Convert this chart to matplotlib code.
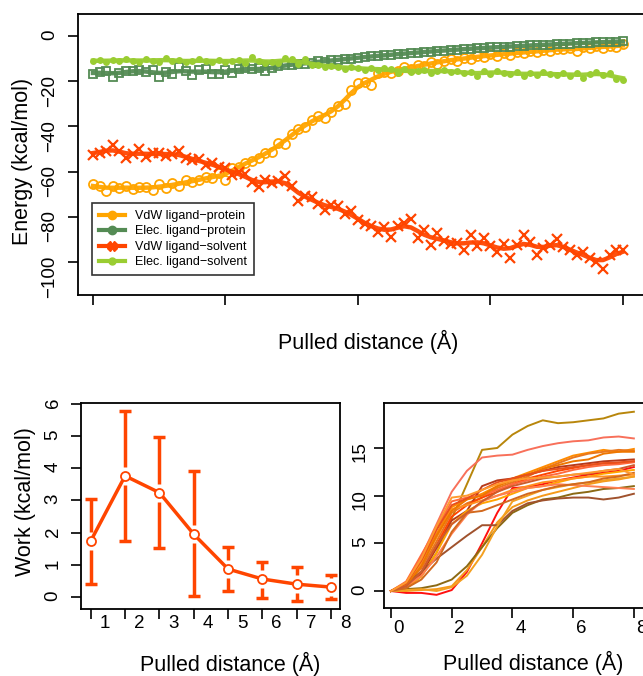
import numpy as np
import matplotlib
matplotlib.use('Agg')
import matplotlib.pyplot as plt
from matplotlib.lines import Line2D
from matplotlib.transforms import ScaledTranslation

plt.rcParams['font.family'] = ['Liberation Sans', 'DejaVu Sans']

# ---- top panel: interaction energies along the pulling path ----
distance = np.linspace(0, 8, 81)

vdw_protein = [-65.5, -66.5, -68.5, -66.6, -67.4, -66.5, -67.8, -67.0, -66.8, -68.2,
               -65.5, -67.4, -65.0, -66.6, -63.6, -64.8, -63.9, -62.5, -62.9, -60.8,
               -63.8, -58.6, -57.8, -56.4, -55.2, -54.0, -51.8, -51.5, -47.2, -47.8,
               -43.2, -41.0, -40.4, -37.2, -35.2, -36.4, -33.6, -31.2, -30.0, -24.0,
               -21.0, -20.2, -21.5, -16.4, -16.0, -16.2, -15.4, -13.8, -14.6, -12.9,
               -13.2, -11.5, -12.3, -11.0, -10.2, -11.0, -9.6, -10.0, -8.7, -9.4,
               -8.2, -8.8, -7.6, -8.4, -7.0, -7.6, -6.8, -7.2, -6.2, -6.6,
               -5.7, -6.0, -5.4, -6.8, -5.0, -5.5, -4.6, -5.3, -4.4, -4.8, -3.6]

elec_protein = [-16.8, -16.0, -15.5, -18.0, -16.4, -15.6, -15.4, -15.2, -16.0, -15.0,
                -18.2, -15.8, -16.9, -13.8, -15.6, -17.2, -15.2, -14.8, -16.8, -16.9,
                -15.0, -16.2, -14.6, -14.4, -14.6, -14.4, -15.4, -14.2, -13.4, -12.8,
                -12.9, -12.2, -12.4, -11.8, -11.2, -11.4, -10.8, -10.6, -10.2, -10.0,
                -9.6, -9.4, -9.0, -8.9, -8.5, -8.4, -8.0, -7.9, -7.5, -7.4,
                -7.1, -6.9, -6.6, -6.5, -6.2, -6.1, -5.8, -5.7, -5.4, -5.4,
                -5.1, -5.0, -4.8, -4.7, -4.5, -4.4, -4.2, -4.1, -3.9, -3.9,
                -3.6, -3.5, -3.4, -3.2, -3.1, -3.0, -2.8, -2.8, -2.6, -2.5, -2.3]

vdw_solvent = [-52.5, -51.8, -51.0, -48.2, -50.8, -54.2, -52.4, -50.2, -53.6, -52.0,
               -51.6, -53.0, -52.2, -51.0, -54.0, -55.0, -54.4, -57.2, -56.0, -58.0,
               -58.4, -61.6, -60.2, -61.0, -64.8, -67.0, -63.6, -65.0, -64.0, -62.0,
               -66.2, -72.8, -70.6, -71.2, -74.4, -76.8, -74.6, -75.4, -78.8, -77.6,
               -81.4, -83.0, -84.2, -86.6, -84.4, -89.0, -84.2, -82.6, -81.0, -89.6,
               -86.0, -92.6, -87.2, -90.8, -92.0, -91.4, -94.6, -88.2, -92.8, -89.6,
               -92.8, -95.6, -92.0, -98.2, -92.6, -88.0, -91.2, -96.8, -94.0, -92.4,
               -89.8, -93.4, -94.8, -96.8, -95.4, -98.4, -99.8, -103.0, -97.0, -94.8, -94.6]

elec_solvent = [-11.0, -10.8, -11.4, -10.6, -11.2, -10.0, -11.2, -11.4, -10.2, -11.0,
                -11.4, -9.6, -11.2, -10.8, -11.6, -11.2, -10.4, -11.0, -11.4, -10.6,
                -11.6, -11.0, -10.8, -11.8, -9.4, -11.2, -12.0, -11.4, -11.8, -9.6,
                -10.2, -12.6, -10.4, -13.0, -12.8, -13.6, -13.2, -13.8, -14.6, -13.6,
                -14.0, -15.2, -14.2, -15.0, -14.4, -14.8, -16.4, -14.6, -16.0, -15.6,
                -15.0, -16.2, -15.4, -15.0, -16.0, -15.6, -16.6, -15.8, -17.8, -15.4,
                -16.8, -15.4, -16.2, -17.0, -16.0, -17.6, -16.4, -17.2, -15.8, -17.0,
                -17.4, -16.6, -17.6, -16.2, -18.4, -17.0, -15.8, -17.2, -16.4, -19.2, -19.4]

energy_labels = ['VdW ligand\u2212protein', 'Elec. ligand\u2212protein',
                 'VdW ligand\u2212solvent', 'Elec. ligand\u2212solvent']

# ---- bottom left: work per distance window ----
work_x = [1, 2, 3, 4, 5, 6, 7, 8]
work_mean = [1.74, 3.76, 3.24, 1.95, 0.87, 0.56, 0.40, 0.31]
work_lo = [0.42, 1.73, 1.52, 0.02, 0.18, -0.02, -0.11, -0.06]
work_hi = [3.05, 5.78, 4.96, 3.90, 1.55, 1.10, 0.92, 0.68]

# ---- bottom right: individual work profiles ----
traj_d = [0, 0.5, 1, 1.5, 2, 2.5, 3, 3.5, 4, 4.5, 5, 5.5, 6, 6.5, 7, 7.5, 8]
traj_work = [
    [0, 0.3, 1.6, 4.0, 7.6, 11.2, 14.8, 15.0, 16.4, 17.3, 17.9, 17.6, 17.7, 17.9, 18.1, 18.6, 18.8],
    [0, 0.9, 3.6, 7.0, 10.4, 12.6, 14.0, 14.2, 14.3, 14.8, 15.2, 15.5, 15.7, 15.8, 16.1, 16.2, 16.0],
    [0, 0.8, 3.0, 6.0, 8.8, 9.6, 10.2, 11.0, 11.8, 12.4, 13.0, 13.6, 14.2, 14.5, 14.8, 14.6, 14.9],
    [0, 0.6, 2.4, 5.2, 8.2, 9.2, 9.8, 10.8, 11.4, 12.0, 12.8, 13.4, 14.0, 14.4, 14.6, 14.8, 14.7],
    [0, 0.4, 1.8, 4.5, 7.4, 8.4, 11.0, 11.6, 11.8, 12.2, 12.6, 13.0, 13.2, 13.4, 13.6, 13.7, 13.8],
    [0, 0.5, 2.0, 4.8, 7.8, 9.0, 9.8, 10.4, 11.2, 11.8, 12.2, 12.6, 12.9, 13.2, 13.4, 13.4, 13.6],
    [0, 1.0, 3.8, 6.6, 9.4, 9.8, 10.0, 10.6, 11.2, 11.6, 12.0, 12.3, 12.7, 13.0, 13.2, 13.3, 13.5],
    [0, -0.2, -0.2, -0.4, 0.1, 2.0, 5.0, 8.2, 10.8, 10.9, 11.2, 11.6, 11.9, 12.2, 12.4, 12.6, 13.0],
    [0, 0.3, 1.5, 4.0, 7.0, 8.4, 9.2, 9.6, 10.2, 10.8, 11.0, 11.4, 11.8, 12.0, 12.3, 12.5, 12.7],
    [0, 0.7, 2.8, 5.6, 8.6, 9.0, 9.5, 10.0, 10.6, 11.0, 11.4, 11.6, 11.8, 12.0, 12.0, 12.1, 12.2],
    [0, 0.0, 0.1, 0.2, 0.5, 2.2, 4.6, 7.2, 8.8, 9.5, 10.0, 10.4, 10.8, 11.2, 11.5, 11.7, 12.0],
    [0, 0.2, 0.3, 0.6, 1.2, 2.6, 4.6, 6.6, 8.2, 9.0, 9.6, 9.8, 10.2, 10.4, 10.7, 10.8, 11.0],
    [0, 0.8, 2.0, 3.4, 4.6, 5.8, 6.9, 6.9, 8.4, 9.2, 9.5, 9.7, 9.8, 9.8, 9.6, 9.8, 10.2],
    [0, 0.5, 1.6, 3.6, 6.0, 8.0, 9.4, 10.0, 10.4, 10.8, 11.0, 11.2, 11.1, 11.0, 10.9, 10.8, 10.7],
    [0, 0.6, 2.6, 5.8, 8.4, 9.6, 10.0, 11.0, 11.6, 12.2, 12.8, 13.2, 13.6, 13.8, 14.4, 14.6, 14.6],
    [0, 0.1, 0.2, 0.0, 0.4, 1.6, 3.8, 6.8, 9.4, 10.0, 10.6, 10.9, 11.2, 11.4, 11.6, 11.8, 12.0],
    [0, 0.8, 3.2, 6.4, 9.0, 9.7, 10.6, 11.4, 11.8, 12.2, 12.6, 12.8, 13.0, 13.2, 13.4, 13.5, 13.6],
    [0, 0.3, 1.2, 3.0, 6.2, 8.2, 8.4, 9.0, 9.6, 10.2, 10.6, 11.0, 11.2, 11.4, 11.8, 12.0, 12.4],
    [0, 0.5, 2.0, 4.8, 7.0, 8.2, 9.4, 10.4, 11.0, 11.4, 11.8, 12.0, 12.2, 12.3, 12.6, 12.8, 13.2],
    [0, 0.9, 3.4, 6.8, 9.8, 10.0, 10.6, 11.2, 11.6, 11.8, 11.9, 12.0, 12.2, 12.4, 12.6, 12.8, 12.2],
]
traj_colors = ['#B8860B', '#F8705A', '#FF8C00', '#E8771E', '#B83A1A', '#FF4500',
               '#FF6A3D', '#FF1010', '#FFA500', '#FF9020', '#F59A1A', '#8B6914',
               '#A0522D', '#FF7F50', '#EE7600', '#F4A020', '#E8501A', '#D2691E',
               '#CD5C2C', '#FF9A2E']


def smooth(x, y, bw=0.14):
    x = np.asarray(x)
    y = np.asarray(y)
    w = np.exp(-0.5 * ((x[:, None] - x[None, :]) / bw) ** 2)
    return (w @ y) / w.sum(axis=1)


def style_axes(ax):
    for s in ax.spines.values():
        s.set_linewidth(1.3)
    ax.tick_params(direction='out', length=7, width=1.2, labelsize=13.5)


fig = plt.figure(figsize=(6.43, 6.76), dpi=100)

# top panel
ax1 = fig.add_axes([0.1213, 0.5636, 0.9051, 0.4157])
series = [
    (vdw_protein, '#FFA500', dict(marker='o', ms=6.5, mfc='none', mew=1.3)),
    (elec_protein, '#548B54', dict(marker='s', ms=6, mfc='none', mew=1.3)),
    (vdw_solvent, '#FF4500', dict(marker='x', ms=7, mew=1.6)),
    (elec_solvent, '#9ACD32', dict(marker='o', ms=5, mew=0)),
]
for vals, col, mk in series:
    ax1.plot(distance, vals, ls='none', color=col, mec=col, **mk)
    ax1.plot(distance, smooth(distance, vals), color=col, lw=3.2, alpha=0.95)

ax1.set_xlim(-0.226, 8.56)
ax1.set_ylim(-114.6, 9.7)
ax1.set_xticks([0, 2, 4, 6, 8])
ax1.set_xticklabels([])
ax1.set_yticks([0, -20, -40, -60, -80, -100])
style_axes(ax1)
ax1.tick_params(axis='y', labelrotation=90, pad=7)
ax1.set_ylabel('Energy (kcal/mol)', fontsize=15.5, va='center')
ax1.yaxis.set_label_coords(-0.095, 0.475)
ax1.set_xlabel('Pulled distance (\u00c5)', fontsize=15.5, va='baseline')
ax1.xaxis.set_label_coords(0.498, -0.192)

handles = [
    Line2D([0], [0], color='#FFA500', lw=3, marker='o', ms=6, mfc='#FFA500', mec='#FFA500'),
    Line2D([0], [0], color='#548B54', lw=3, marker='o', ms=6, mfc='#548B54', mec='#548B54'),
    Line2D([0], [0], color='#FF4500', lw=3, marker='X', ms=7, mfc='#FF4500', mec='#FF4500'),
    Line2D([0], [0], color='#9ACD32', lw=3, marker='o', ms=5, mfc='#9ACD32', mec='#9ACD32'),
]
leg = ax1.legend(handles, energy_labels, loc='upper left', bbox_to_anchor=(0.024, 0.327),
                 fontsize=9, frameon=True, fancybox=False, edgecolor='black',
                 handlelength=2.1, labelspacing=0.28, borderpad=0.55,
                 handletextpad=0.8, borderaxespad=0)
leg.get_frame().set_linewidth(1.2)

# bottom left panel
ax2 = fig.add_axes([0.1260, 0.0991, 0.4028, 0.3047])
red = '#FF4500'
gap = 0.28
for x, m, lo, hi in zip(work_x, work_mean, work_lo, work_hi):
    if m - gap > lo:
        ax2.plot([x, x], [lo, m - gap], color=red, lw=2.5, solid_capstyle='butt')
    if m + gap < hi:
        ax2.plot([x, x], [m + gap, hi], color=red, lw=2.5, solid_capstyle='butt')
ax2.plot(work_x, work_lo, ls='none', marker='_', ms=8, mew=2.5, color=red)
ax2.plot(work_x, work_hi, ls='none', marker='_', ms=8, mew=2.5, color=red)
ax2.plot(work_x, work_mean, color=red, lw=2.5, marker='o', ms=6.5,
         mfc='white', mec=red, mew=1.3, zorder=3)
ax2.set_xlim(0.717, 8.26)
ax2.set_ylim(-0.37, 6.02)
ax2.set_xticks(work_x)
ax2.set_xticklabels([str(v) for v in work_x])
ax2.set_yticks([0, 1, 2, 3, 4, 5, 6])
style_axes(ax2)
ax2.tick_params(axis='y', labelrotation=90, pad=7)
ax2.tick_params(axis='x', pad=-3)
for lab in ax2.get_xticklabels():
    lab.set_transform(lab.get_transform() + ScaledTranslation(0.14, 0, fig.dpi_scale_trans))
ax2.set_ylabel('Work (kcal/mol)', fontsize=15.5, va='center')
ax2.yaxis.set_label_coords(-0.216, 0.52)
ax2.set_xlabel('Pulled distance (\u00c5)', fontsize=15.5, va='baseline')
ax2.xaxis.set_label_coords(0.575, -0.30)

# bottom right panel
ax3 = fig.add_axes([0.5972, 0.1006, 0.4292, 0.3033])
for vals, col in zip(traj_work, traj_colors):
    ax3.plot(traj_d, vals, color=col, lw=1.4)
ax3.set_xlim(-0.23, 8.86)
ax3.set_ylim(-1.78, 19.72)
ax3.set_xticks([0, 2, 4, 6, 8])
ax3.set_yticks([0, 5, 10, 15])
style_axes(ax3)
ax3.tick_params(axis='y', labelrotation=90, pad=4)
ax3.tick_params(axis='x', pad=2)
for lab in ax3.get_xticklabels():
    lab.set_transform(lab.get_transform() + ScaledTranslation(0.08, 0, fig.dpi_scale_trans))
ax3.set_xlabel('Pulled distance (\u00c5)', fontsize=15.5, va='baseline')
ax3.xaxis.set_label_coords(0.54, -0.30)

fig.savefig('out.png', dpi=100)
